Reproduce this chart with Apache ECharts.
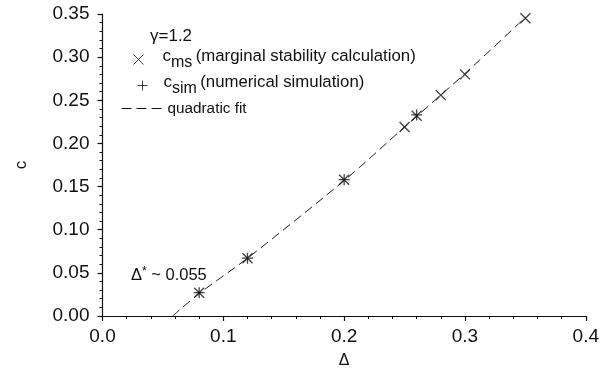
<!DOCTYPE html>
<html>
<head>
<meta charset="utf-8">
<script src="https://cdn.jsdelivr.net/npm/echarts@6/dist/echarts.min.js"></script>
<style>html,body{margin:0;padding:0;background:#fff;}#c{width:602px;height:375px;}</style>
</head>
<body>
<div id="c"></div>
<script>
// Data
var deltaMs = [0.08, 0.12, 0.20, 0.25, 0.26, 0.28, 0.30, 0.35];
var cMs     = [0.027, 0.067, 0.158, 0.219, 0.232, 0.256, 0.280, 0.345];
var deltaSim = [0.08, 0.12, 0.20, 0.26];
var cSim     = [0.027, 0.067, 0.158, 0.233];
var fitDelta = [0.058, 0.08, 0.12, 0.20, 0.25, 0.30, 0.35];
var fitC     = [0.0, 0.026, 0.067, 0.157, 0.219, 0.281, 0.346];
var xTicks = ['0.0', '0.1', '0.2', '0.3', '0.4'];
var yTicks = ['0.00', '0.05', '0.10', '0.15', '0.20', '0.25', '0.30', '0.35'];

function pairs(a, b) { return a.map(function (v, i) { return [v, b[i]]; }); }

var FONT = 'Liberation Sans, Arial, Helvetica, sans-serif';
var XPATH = 'path://M0,0L10,10M10,0L0,10';
var PPATH = 'path://M5,0L5,10M0,5L10,5';

var chart = echarts.init(document.getElementById('c'), null, {renderer: 'canvas'});
function subRich(padL) {
  return {
    b: {fontSize: 17, fontFamily: FONT, color: '#111', lineHeight: 17, padding: [0, 0, 6, padL]},
    s: {fontSize: 16, fontFamily: FONT, color: '#111', lineHeight: 17, padding: [6, 0, 0, 0]},
    t: {fontSize: 16.8, fontFamily: FONT, color: '#111', lineHeight: 17, padding: [0, 0, 6, 0]}
  };
}
var option = {
  animation: false,
  backgroundColor: '#fff',
  grid: {left: 102.5, right: 13, top: 14, bottom: 59},
  xAxis: {
    type: 'value', min: 0, max: 0.4, interval: 0.1,
    name: 'Δ', nameLocation: 'middle', nameGap: 37,
    nameTextStyle: {fontSize: 16, fontFamily: FONT, color: '#111'},
    axisLine: {show: true, onZero: false, lineStyle: {color: '#111', width: 1.2}},
    axisTick: {show: true, length: 5, lineStyle: {color: '#111', width: 1.2}},
    minorTick: {show: true, splitNumber: 5, length: 3, lineStyle: {color: '#111', width: 1}},
    splitLine: {show: false},
    axisLabel: {fontSize: 19, fontFamily: FONT, color: '#111', margin: 11,
      formatter: function (v) { return xTicks[Math.round(v / 0.1)]; }}
  },
  yAxis: {
    type: 'value', min: 0, max: 0.35, interval: 0.05,
    name: 'c', nameLocation: 'middle', nameGap: 73, nameRotate: 90,
    nameTextStyle: {fontSize: 17, fontFamily: FONT, color: '#111'},
    axisLine: {show: true, onZero: false, lineStyle: {color: '#111', width: 1.2}},
    axisTick: {show: true, length: 5, lineStyle: {color: '#111', width: 1.2}},
    minorTick: {show: true, splitNumber: 5, length: 3, lineStyle: {color: '#111', width: 1}},
    splitLine: {show: false},
    axisLabel: {fontSize: 19, fontFamily: FONT, color: '#111', margin: 13,
      formatter: function (v) { return yTicks[Math.round(v / 0.05)]; }}
  },
  legend: [
    {
      left: 128, top: 43, itemWidth: 10, itemHeight: 10, itemGap: 0,
      data: [{name: 'cms', icon: XPATH}],
      itemStyle: {color: 'transparent', borderColor: '#111', borderWidth: 1},
      formatter: function () { return '{b|c}{s|ms} {t|(marginal stability calculation)}'; },
      textStyle: {rich: subRich(14)}, selectedMode: false
    },
    {
      left: 132, top: 69, itemWidth: 10, itemHeight: 10, itemGap: 0,
      data: [{name: 'csim', icon: PPATH}],
      itemStyle: {color: 'transparent', borderColor: '#111', borderWidth: 1},
      formatter: function () { return '{b|c}{s|sim} {t|(numerical simulation)}'; },
      textStyle: {rich: subRich(11)}, selectedMode: false
    },
    {
      left: 116, top: 96, itemWidth: 41, itemHeight: 12, itemGap: 0,
      data: [{name: 'quadratic fit'}],
      itemStyle: {color: 'transparent', borderColor: 'transparent', borderWidth: 0},
      lineStyle: {color: '#111', width: 1, type: [10, 5]},
      formatter: function () { return 'quadratic fit'; },
      textStyle: {fontSize: 15.3, fontFamily: FONT, color: '#111', padding: [0, 0, 2, 0]},
      selectedMode: false
    }
  ],
  graphic: [
    {type: 'text', left: 150, top: 28, style: {text: 'γ=1.2', font: '17px ' + FONT, fill: '#111'}},
    {type: 'text', left: 131, top: 263,
      style: {text: '{a|Δ}{s|*}{a| ~ 0.055}', fill: '#111',
        rich: {a: {fontSize: 16.5, fontFamily: FONT, lineHeight: 18, padding: [4, 0, 0, 0]},
               s: {fontSize: 12, fontFamily: FONT, lineHeight: 18, padding: [0, 0, 4, 0]}}}}
  ],
  series: [
    {
      name: 'quadratic fit', type: 'line', data: pairs(fitDelta, fitC),
      smooth: 0.3, symbol: 'none', z: 1,
      lineStyle: {color: '#222', width: 1, type: [9, 5]}
    },
    {
      name: 'cms', type: 'scatter', data: pairs(deltaMs, cMs),
      symbol: XPATH, symbolSize: 10, z: 3,
      itemStyle: {color: 'transparent', borderColor: '#111', borderWidth: 1.3}
    },
    {
      name: 'csim', type: 'scatter', data: pairs(deltaSim, cSim),
      symbol: PPATH, symbolSize: 11, z: 3,
      itemStyle: {color: 'transparent', borderColor: '#111', borderWidth: 1.3}
    }
  ]
};
chart.setOption(option);
</script>
</body>
</html>
